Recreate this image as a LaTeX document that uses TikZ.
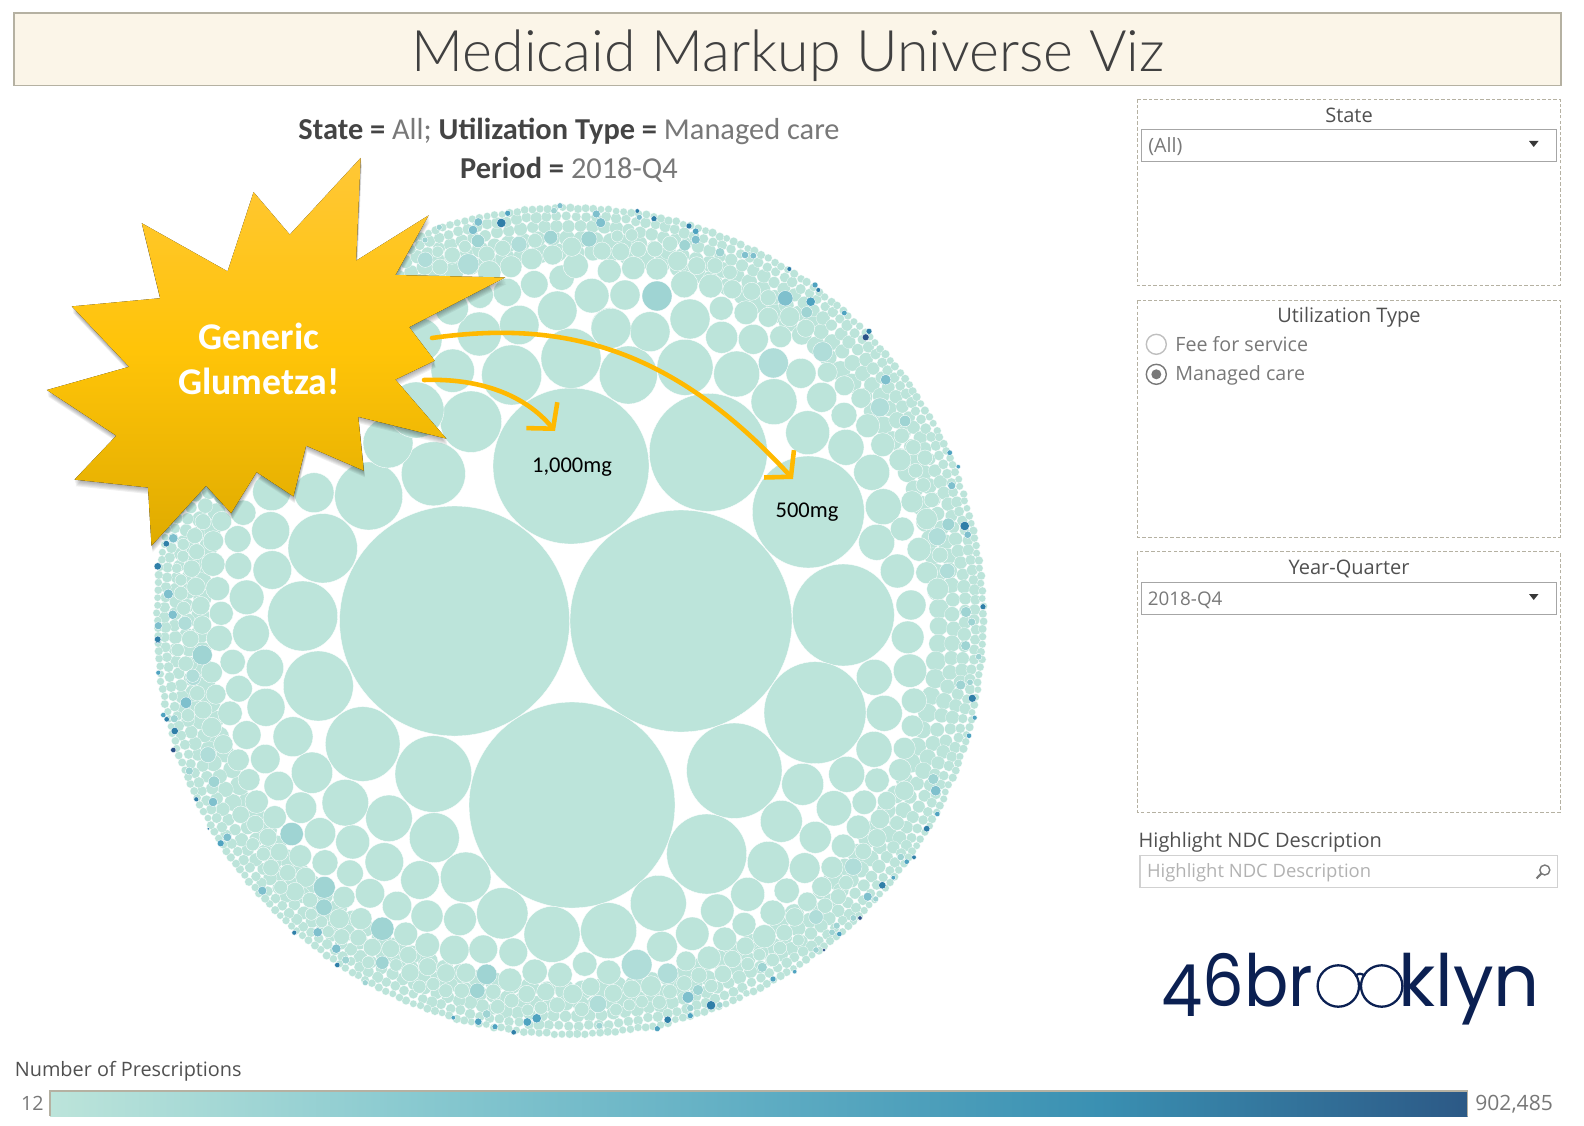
\documentclass[tikz,border=0pt]{standalone}
\usepackage{fontspec}
\usepackage{graphicx}
\setmainfont{Open Sans}
\newfontfamily\titlefont{Lato Light}
\newfontfamily\calloutfont{Carlito}
\newfontfamily\logofont{Poppins}
\usetikzlibrary{arrows.meta}
\definecolor{bubbleA}{HTML}{BCE4DA}
\definecolor{bubbleB}{HTML}{B0DDD9}
\definecolor{bubbleC}{HTML}{9FD4D3}
\definecolor{bubbleD}{HTML}{7FC0CD}
\definecolor{bubbleE}{HTML}{4FA3C0}
\definecolor{bubbleF}{HTML}{2F7FA8}
\definecolor{bubbleG}{HTML}{2A5288}
\definecolor{rampB}{HTML}{8ACAD0}
\definecolor{rampC}{HTML}{5FADC3}
\definecolor{rampD}{HTML}{3A90B2}
\definecolor{rampE}{HTML}{2C5986}
\definecolor{bannerfill}{HTML}{FBF5E8}
\definecolor{framegray}{HTML}{B5B1A2}
\definecolor{textdark}{HTML}{505050}
\definecolor{textsoft}{HTML}{787878}
\definecolor{goldline}{HTML}{FFB900}
\definecolor{logonavy}{HTML}{0B2052}
\definecolor{burstlow}{HTML}{DFAB00}
\definecolor{burstmid}{HTML}{FFC408}
\definecolor{bursttop}{HTML}{FFC736}
\pgfdeclarehorizontalshading{rampshade}{100bp}{color(0bp)=(bubbleA); color(25bp)=(bubbleA); color(37.5bp)=(rampB); color(50bp)=(rampC); color(62bp)=(rampD); color(75bp)=(rampE); color(100bp)=(rampE)}
\newcommand{\bubbleset}[2]
{   \foreach \x/\y/\r in {#2} {\fill[bubble,fill=#1] (\x,\y) circle (\r);}
}
\newcommand{\burstpath}{(360.7,157.9) -- (356.1,260.7) -- (428.6,215.4) -- (395.4,275) -- (505.1,277.5) -- (409.2,327.1) -- (434.7,360.7) -- (395.4,379.6) -- (446.4,438.6) -- (358.2,416.8) -- (363.8,470.7) -- (306.1,445.7) -- (293.4,496.4) -- (256.6,472.1) -- (231.1,513.2) -- (206.1,485.7) -- (151.5,545.7) -- (148,487.5) -- (74.5,479.6) -- (116.3,435.7) -- (46.9,390) -- (129.1,366.8) -- (71.9,306.4) -- (160.2,298.2) -- (141.8,223.2) -- (227.6,271.4) -- (253.6,192.1) -- (289.8,234.6) -- cycle}
\tikzset{
  bubble/.style={draw=white,line width=.2pt},
  ringbubble/.style={draw=white,line width=.1pt,fill=bubbleA},
  panelbox/.style={draw=framegray,dashed,dash pattern=on 2pt off 1.2pt,line width=.5pt},
  dropbox/.style={draw=black!35,line width=.5pt},
  panelhead/.style={font=\fontsize{11.4}{14}\selectfont,text=textdark,inner sep=0pt},
  panelitem/.style={font=\fontsize{11.2}{14}\selectfont,text=textsoft,inner sep=0pt,anchor=west},
  subhead/.style={font=\calloutfont\fontsize{17.3}{20}\selectfont,text=textsoft,inner sep=0pt},
  doselabel/.style={font=\calloutfont\fontsize{12.8}{15}\selectfont,text=black,inner sep=0pt},
  logotext/.style={logonavy,font=\logofont\fontsize{41}{46}\selectfont,inner sep=0pt},
  goldarrow/.style={draw=goldline,line width=2.6pt,line cap=round,line join=round,-{Straight Barb[length=10pt,width=23pt,line width=2.6pt]}},
}
\begin{document}
\begin{tikzpicture}[x=0.02cm,y=-0.02cm]
  \useasboundingbox (0,0) rectangle (1584,1125);
  \draw[fill=bannerfill,draw=framegray,line width=.9pt] (13.8,13) rectangle (1561,85.5);
  \node[font=\titlefont\fontsize{32.6}{38}\selectfont,text=textdark!80!black,inner sep=0pt] (maintitle) at (788,56) {Medicaid Markup Universe Viz};
  \node[subhead] (subone) at (569,131.5) {\textcolor{textdark!85!black}{\bfseries State =} All; \textcolor{textdark!85!black}{\bfseries Utilization Type =} Managed care};
  \node[subhead] (subtwo) at (569,169.7) {\textcolor{textdark!85!black}{\bfseries Period =} 2018-Q4};

  \begin{scope}[shift={(570,621)}]
    \pgfmathsetseed{46}
    \foreach \d/\r/\n in {369/9.4/132,383/7.8/165,395/6.4/207,405/5.3/255,413/4/340}
    {   \foreach \k in {1,...,\n}
        {\fill[ringbubble] ({\k/\n*360+\d}:{\d+(2*rnd-1)}) circle ({\r*(.9+.2*rnd)});}
    }
  \end{scope}

  \bubbleset{bubbleA}{454.6/621/115,681/621/111,572/805/103,571/466/78,708.3/452.3/59,808.3/512/56,843.3/615/51,815/712.7/51,734.3/770.7/47.7,706.7/854/40,658.3/903.3/28,608.7/930.7/28,552/934.4/28,
    318.3/686/35,362.7/744/37.3,433.3/774/38.3,434.3/837.7/25,389/818.3/23.3,345.3/802.7/23.3,312/772.7/20.7,293/736.7/20,266/707.3/19,265/668/18.7,322.7/548.3/34.7,302.7/616/35,314/492.7/20,270.7/530.7/19,272.3/570/19.3,246.7/597.3/17.3,251/633.3/18.3,
    368.7/496/34,433.4/473.8/32,471/421.7/30.7,511.7/375/30,571/358.3/30,628.3/375/29,685/367.3/28,388/443/25,416/410/28,420/340/22,
    736.7/374/23,774/401.7/23,807.7/432.7/22,846/447.3/18,871.7/472.3/18,883.3/506.7/18,876.7/542.3/18,897.3/571/17,650/331.7/20,690/319/20,721.7/337.3/16,753.3/339.3/15,610/326.7/19,801/373.3/15,821.7/397.3/15,844/415.3/13,867.7/425.7/12,882.7/444.7/12,900/460/11,912/501.7/11,902.3/529/12,919/549.3/12,926.7/572.7/11,
    625/295/15,684.3/284.3/13.5,710.7/286/12,732.3/289.3/9.5,721.3/308.3/12,746/312.7/12,768.3/317.3/10,789.7/316.7/10,780.7/336.7/11,805.7/328.3/9,827.3/372.3/10,844.3/385.7/10,861/398.3/10,
    846.7/774.3/18,874.3/677.3/18,910/670.7/16.7,907.7/637.3/16.3,911/605/15,884.3/713.3/18,914/700.7/12.7,912.3/726/11,874/749.3/18,904.3/748.3/11,802.7/784.3/21,877/780.3/12.3,900/770/11.3,904.3/790.7/9.7,886.7/800.7/9.3,864.3/802.3/12.3,834/808.3/17.7,781.3/821.3/21,815.3/837.3/16,858.3/827/12,880/819/9.7,897/823/7.3,877/838/9.3,843.3/846/12,863.3/851.3/8.3,832/867.3/11,804.7/868/15.3,768.3/862.3/21,786.7/890.7/12.7,747.7/894.3/17,717.3/910.7/16.7,772.7/912.7/12.7,807.3/901.7/9.7,821.7/886.7/10,846/882.7/7.3,838.3/896.7/8,825/905.7/7.7,794.7/917/9.3,744/924.3/12,764.3/936.3/11.7,692.3/933.7/16.7,662/946.7/15.3,608.7/972.3/12.3,584.7/964/12.3,686/961/10,709/957.7/11.7,724.7/939/12,745.3/946/9,732.3/959/8.7,759.3/954.7/6.3,772.7/960/6.7,784.3/932.7/8.3,780/948/6.7,798.3/940/6,723/974/8.7,747.7/964/6.7,699/975.3/8,684.3/983.3/7.7,651/986/10.3,631.7/989/9,613.3/993.3/9,590.7/986.7/9.3,581.7/1009.3/7.3,616/1009.7/6.3,670/991.7/7.3,659.3/1002.3/7,642/1001.7/6.3,629.3/1005/6,711.3/986/6.7,
    239/688.7/13.3,232.7/662/12.7,216/694.3/10,230/713.3/12.3,246.7/735/14.3,223.3/744.3/9.7,211.7/727.3/10,238.3/760/11,265.3/759/14.7,278.7/786/14.7,249/779.7/11,256.7/801.7/11.7,301/807.7/15.7,274.7/817.3/11.7,240.7/814.7/8.7,255.3/824/8.7,320/833.3/15.7,352.7/842/17,384.3/862/19.3,350/873.3/13.3,325/862.7/13,300.3/856/11.3,279.3/852/9,268/837.3/9,252.7/844.3/6.7,263.3/854/7,271/867.7/8.3,287.7/872.7/8.3,305.7/877.3/10,344/897.3/11,370/893.3/14.7,397/906/14.7,420/880/19.3,465.7/877.3/25.3,502.3/913.3/25.7,427/916/16,460/919.3/16.3,454.3/950/14.7,483.3/949.3/14.3,513.3/952.3/14.3,534.7/971.7/12.7,560/974.7/12.3,427.3/945/12.3,405.7/934/12,358.3/937.7/8.3,361/918.7/11,339.3/918.7/10,341.7/936.7/8,372.3/947.3/9,390.7/948.7/9,408.3/955/8.7,368.3/962.3/6.3,396/965/6.3,427.7/966.7/9,446/973/9.3,466/972.7/9.7,510/980/12,493.3/991.7/7.7,511.7/1000.7/7.3,526.7/994/8.7,545.7/991.7/9,572.7/994/9.7,557.3/1005/8,541/1007.7/6.7,527.7/1010/6,497.7/1006.7/7.3,461.7/990.7/7.7,445.7/990.7/7,433.3/984/6.7,410/972.7/9,419.3/986.7/6.7,
    295/891.7/9.3,280.7/887.3/7,310/900/7.7,311.3/914.3/6,321.7/921.7/6,328.3/931.7/6,
    185.7/663.7/7.7,177.7/650/6.7,203/710/9,188/715.3/6.7,197.3/693.3/7.7,
    219.3/638.3/13,221.3/613.3/12,217.7/588.7/12,238.3/566/13.3,237.7/539/13.3,213.3/541/10.3,213/564.3/12,191.7/568.7/8.7,196/586.7/9.3,200.7/605.7/9.3,202.3/625/9.3,190.3/639/8.7,211.7/672.3/10.7,183.7/608.3/7,181/593.3/7,181/580/6,176.7/568.3/5.3,183/556.3/6,196.7/551.7/8,183.3/544.3/6,194.7/535.7/8,203/521.7/8,221.7/521.3/10,243.3/512.7/12.7,271.7/491.7/19,
    479.3/334/22,519.3/325/19.7,557.3/310.7/19.7,452.7/370.7/21.7,611/328.3/20,591.7/295.7/17.3,561.7/277.7/12.7,534.3/284.3/13.7,507.3/292.3/14,480/295/13.3,451.7/308.3/16.7,511/266.7/11,531.7/259/10.7,552.7/255/10,575.7/265.7/12.7,609.3/271/12,631.7/269/10,602/251/9,620.7/251.7/9,571.7/246.7/9.7,535/240.7/7.3,502.7/248.3/8,486.7/254.3/8.3,489.3/272.3/11.7,452.3/255/8,440/267/8,437.7/251.7/5.7,465/246.7/6.3,
    633.3/268/11.7,657/269/11,677.7/261/10,696.7/265.7/9,715/265.7/8,730/272.3/7.3,751.7/291.3/9,768.3/297.7/8,638.3/249.3/8,655/249/8,670/243.7/7.7,631.7/235/6.3,617.3/236/6,
    926.7/519/10.7,931.7/500/7.7,923.3/485/7.3,915.7/470.7/7.3,925/457.7/7.7,913.3/447.3/7.7,901.7/435.7/7.7,940/555/8,937.7/589/11}
  \bubbleset{bubbleB}{822.7/351.7/10,773.3/363/15,853.3/866.7/8.7,816/917/7.3,636.7/964.7/15.3,667.7/973.3/10.3,598/1004/8.7,193.3/677.7/7.7,468.3/264.3/10.7,425.3/259.7/7.7,519/244.3/8,880/407.3/9.5,937.3/536.7/9,947.3/571/7.7,192.7/675.7/6.7,185/623.3/7,208/754.7/8}
  \bubbleset{bubbleC}{657/296/15,291.7/834/11.7,324.3/887.3/11,382.3/928.7/11.7,202.3/655/10,486.7/974.3/10.3,324/907.3/8.3,382.3/962.7/6.7,806.7/312.3/5.7,684.7/245.3/5.7,720/252.3/4.7,905/421/5.7,948.3/524.3/6.3,960.7/685/5,966/612/5.5,214/781.7/5.7,698/990/5.5,477.3/990.7/7.7,550.7/237.3/7,478/241/6.7,589/239/8,439.3/227.3/3,425/240/3,900.7/857/3.7,933.3/779/5.5,762.3/967.3/5,174.3/718.7/4,189.3/771/4,345.7/960/4,486.7/1014/4.3,599.3/1025.7/3.5,365.3/982.7/3,836.7/925.7/3.5,832/932.3/3.3,816/950/3.2,853.3/918/3.3,875.7/899/3,719.7/1005/3.3,690.3/1008/3.7,971.7/622/4,965.7/645.7/5,978.7/656.7/3.3,970/682.3/3.3,554/210.7/3.3}
  \bubbleset{bubbleD}{785.3/298.3/7.7,885.7/379.7/5.3,935.7/790.7/5.3,186/702.7/5.7,213/802/4.7,262.3/890.7/4.5,317.7/932.3/4.7,336.3/948.7/4.7,688/997.3/5.8,867.7/896.7/4.5,478.3/222/4.3,473/230/4.7,600.7/222.7/5,596.3/214/4,168.3/594/5,172.7/614.7/4.7,173.3/538.3/4.7,695.7/239.7/4.5,745/255/3.7,753.3/255.7/3.3,227.3/837.3/4.3,951.7/485.7/4,967.7/534.7/3.7,639.3/217.3/3,560/205.7/3,158.3/625.7/4}
  \bubbleset{bubbleE}{810.7/301.7/4.7,695.7/231.3/3.3,815/285/3,844.3/313/2.8,949.7/452.7/2.8,958.3/466.7/2.2,974.7/717.7/2.5,969/735.7/2.7,937.3/814/2.7,906.7/861.7/2.7,893.3/877.7/2.3,839.3/934/2.7,773/979/3,690.3/1015.7/3,657.3/1028.7/3,220.7/843.3/3.5,478.3/1021.7/3.7,527.3/1022/4.3,536.7/1018.3/4.7,495/1026.7/3,453.3/1017.7/2.3,163.3/715/2.7,158.3/672.7/2.5,507.7/213.3/3,794.7/971.7/2.2}
  \bubbleset{bubbleF}{501.3/223/4.7,654/218.7/3,689/226/3,789.3/269/2.4,818.3/290/2.4,869/331.3/3,964.7/526/4.7,983/606.7/3,972.3/698.3/4,926.7/828.7/3.3,914/857.3/2.3,882.3/885.3/3.7,711/1005.3/4.7,667.7/1019.7/3.7,174.7/731/3.7,166.7/719.3/2.7,157.7/640.7/3,196.3/799.3/2.5,208.3/828.7/1.5,294.3/932.7/2.5,337.3/965/2.7,513.7/1032.3/2.7,157.7/566.3/3.7,166.3/543.7/3.3,157.7/639.3/3.3,637.3/211/2.3}
  \bubbleset{bubbleG}{865.7/337.3/3.5,860/918/2.2,824/950/1.8,173.3/750/2.7}

  \node[doselabel] (doseA) at (572,467) {1,000mg};
  \node[doselabel] (doseB) at (807,512) {500mg};

  \foreach \s in {1,...,6}
  {   \fill[black,opacity=.06,shift={(.2*\s,1.1*\s)}] \burstpath;
  }
  \fill[top color=bursttop,bottom color=burstlow,middle color=burstmid] \burstpath;
  \node[font=\calloutfont\bfseries\fontsize{21.5}{24}\selectfont,text=white,align=center,inner sep=0pt] (burstlabel) at (259,359) {Generic\\[2pt]Glumetza!};

  \coordinate (startlong) at (432,338);
  \coordinate (tiplong) at (793,479);
  \coordinate (startshort) at (424,380);
  \coordinate (tipshort) at (555,431);
  \draw[goldarrow] (startlong) .. controls (560,320) and (670,345) .. (tiplong);
  \draw[goldarrow] (startshort) .. controls (480,378) and (525,395) .. (tipshort);

  \draw[panelbox] (1137.3,99) rectangle (1560,285.3);
  \node[panelhead] (statehead) at (1349,115.5) {State};
  \draw[dropbox] (1141.3,129.3) rectangle (1556.3,161);
  \node[panelitem] (statevalue) at (1148,146.7) {(All)};
  \fill[textdark!70!black] (1529,141) -- (1538.5,141) -- (1533.7,147) -- cycle;

  \draw[panelbox] (1137.3,300.3) rectangle (1560,537);
  \node[panelhead] (usehead) at (1349,317) {Utilization Type};
  \draw[black!25,line width=.8pt] (1156.3,344.3) circle (10);
  \node[panelitem] (usefee) at (1175,344.3) {Fee for service};
  \draw[textsoft,line width=.8pt] (1156.3,374.3) circle (10);
  \fill[textsoft] (1156.3,374.3) circle (5);
  \node[panelitem] (usecare) at (1175,375.3) {Managed care};

  \draw[panelbox] (1137.3,551.6) rectangle (1560,812.2);
  \node[panelhead] (yearhead) at (1349,568.7) {Year-Quarter};
  \draw[dropbox] (1141.3,582) rectangle (1556.3,614);
  \node[panelitem,font=\fontsize{10.7}{14}\selectfont] (yearvalue) at (1147.6,600) {2018-Q4};
  \fill[textdark!70!black] (1529,594) -- (1538.5,594) -- (1533.7,600) -- cycle;

  \node[panelhead,anchor=west] (ndchead) at (1138.3,842.7) {Highlight NDC Description};
  \draw[draw=black!18,line width=.6pt] (1140,855.3) rectangle (1557.3,887.3);
  \node[panelitem,text=black!30,font=\fontsize{10.5}{14}\selectfont] (ndcvalue) at (1146.7,872.7) {Highlight NDC Description};
  \draw[textsoft,line width=.8pt] (1544.8,870) circle (5);
  \draw[textsoft,line width=1.2pt] (1541.3,873.5) -- (1536.5,878.5);

  \node[logotext,anchor=base west] (logoleft) at (1161,1006.7) {\scalebox{.91}[1]{\raisebox{-5.5pt}{4}6br}};
  \node[logotext,anchor=base east] (logoright) at (1540,1006.7) {klyn};
  \draw[logonavy,line width=1.3pt] (1338.3,986) circle (20.7) (1381.7,986) circle (20.7);
  \draw[logonavy,line width=1.3pt] (1355,976) .. controls (1359,973) and (1361,973) .. (1365,976);

  \node[panelhead,anchor=west,font=\fontsize{11.3}{14}\selectfont] (rampname) at (14.5,1071.3) {Number of Prescriptions};
  \node[panelitem,anchor=east] (rampmin) at (44,1103) {12};
  \shade[shading=rampshade] (50,1091) rectangle (1467.7,1116);
  \draw[framegray,line width=.7pt] (50,1116) -- (50,1091) -- (1467.7,1091) -- (1467.7,1116);
  \node[panelitem,font=\fontsize{12}{14}\selectfont] (rampmax) at (1475,1103.7) {902,485};
\end{tikzpicture}
\end{document}
